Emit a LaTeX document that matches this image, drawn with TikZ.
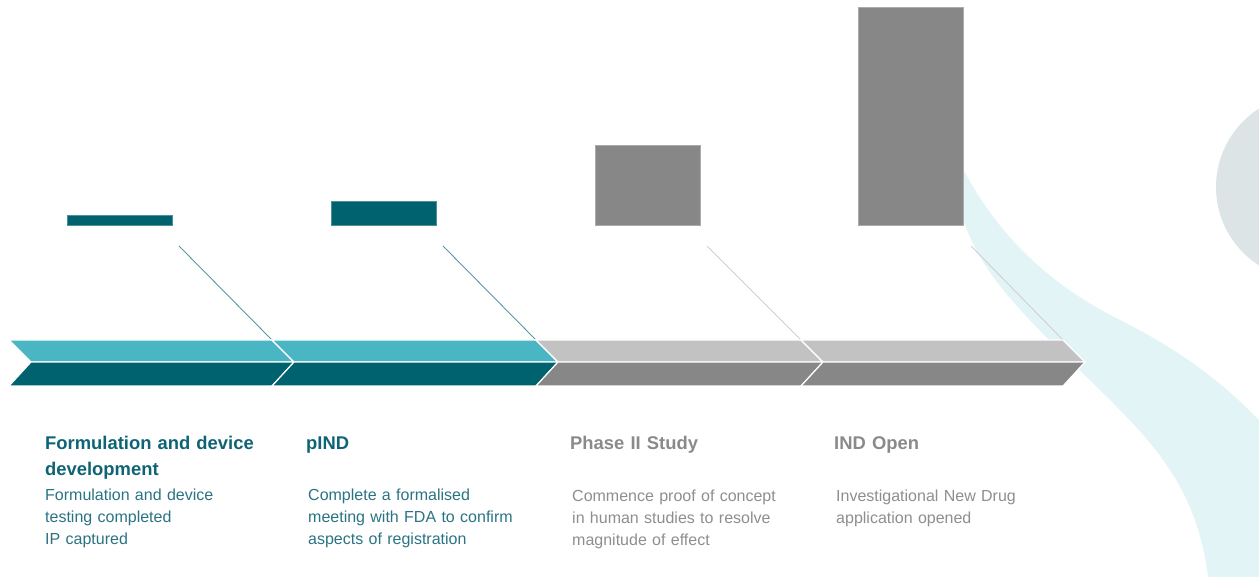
\documentclass[tikz,border=0pt]{standalone}
\usepackage{fontspec}
\setmainfont{Liberation Sans}
\definecolor{tealD}{HTML}{00626F}
\definecolor{tealL}{HTML}{4AB5C3}
\definecolor{grayD}{HTML}{878787}
\definecolor{grayL}{HTML}{C2C2C2}
\definecolor{waveC}{HTML}{E3F4F7}
\definecolor{discC}{HTML}{DCE4E6}
\definecolor{headT}{HTML}{0E6474}
\definecolor{bodyT}{HTML}{2A7383}
\definecolor{headG}{HTML}{8A8A8A}
\definecolor{bodyG}{HTML}{8E8E8E}
\definecolor{linkT}{HTML}{5B97A3}
\definecolor{linkG}{HTML}{D0D0D0}
\begin{document}
\begin{tikzpicture}[x=1pt,y=-1pt,
  bar/.style={anchor=south west, inner sep=0pt, minimum width=105pt, line width=0.6pt},
  tealbar/.style={bar, fill=tealD, draw=tealD!70!white},
  graybar/.style={bar, fill=grayD, draw=grayD!70!white},
  link/.style={line width=0.9pt},
  head/.style={anchor=base west, inner sep=0pt, align=left, text width=240pt,
    font=\bfseries\fontsize{18.4}{26}\selectfont},
  body/.style={anchor=base west, inner sep=0pt, align=left, text width=240pt,
    font=\fontsize{16}{22}\selectfont}]
\useasboundingbox (0,0) rectangle (1259,577);

% background wave and disc on the right
\begin{scope}
  \clip (0,0) rectangle (1259,577);
  \fill[waveC] (945,130) .. controls (985,230) and (1050,285) .. (1120,320)
    .. controls (1190,355) and (1250,400) .. (1300,470)
    -- (1300,600) -- (1210,600)
    .. controls (1205,500) and (1160,450) .. (1110,400)
    .. controls (1040,330) and (980,280) .. (962,215)
    -- (945,130) -- cycle;
  \fill[discC] (1309,187) circle (93);
\end{scope}

% milestone bars
\node[tealbar, minimum height=10pt] (b1) at (67,226) {};
\node[tealbar, minimum height=24pt] (b2) at (331,226) {};
\node[graybar, minimum height=80pt] (b3) at (595,226) {};
\node[graybar, minimum height=218pt] (b4) at (858,226) {};

% connector ends
\coordinate (s1) at (179,246);
\coordinate (s2) at (443,246);
\coordinate (s3) at (707,246);
\coordinate (s4) at (971,246);
\coordinate (t1) at (272,340);
\coordinate (t2) at (536,340);
\coordinate (t3) at (801,340);
\coordinate (t4) at (1063,340);

\draw[link, linkT] (s1) -- (t1);
\draw[link, linkT] (s2) -- (t2);
\draw[link, linkG] (s3) -- (t3);
\draw[link, linkG] (s4) -- (t4);

% chevron timeline
\foreach \a/\b/\lt/\dk in {31/294/tealL/tealD, 294/558/tealL/tealD, 558/823/grayL/grayD, 823/1085/grayL/grayD}{
  \filldraw[fill=\lt, draw=white, line width=1.2pt, line join=miter]
    (\a-22,340) -- (\b-22,340) -- (\b,362) -- (\a,362) -- cycle;
  \filldraw[fill=\dk, draw=white, line width=1.2pt, line join=miter]
    (\a,362) -- (\b,362) -- (\b-22,386) -- (\a-22,386) -- cycle;
}

% labels
\node[head, text=headT] (h1) at (45,449) {Formulation and device\\development};
\node[body, text=bodyT] (d1) at (45,500) {Formulation and device\\testing completed\\IP captured};
\node[head, text=headT] (h2) at (306,449) {pIND};
\node[body, text=bodyT] (d2) at (308,500) {Complete a formalised\\meeting with FDA to confirm\\aspects of registration};
\node[head, text=headG] (h3) at (570,449) {Phase II Study};
\node[body, text=bodyG] (d3) at (572,501) {Commence proof of concept\\in human studies to resolve\\magnitude of effect};
\node[head, text=headG] (h4) at (834,449) {IND Open};
\node[body, text=bodyG] (d4) at (836,501) {Investigational New Drug\\application opened};
\end{tikzpicture}
\end{document}
